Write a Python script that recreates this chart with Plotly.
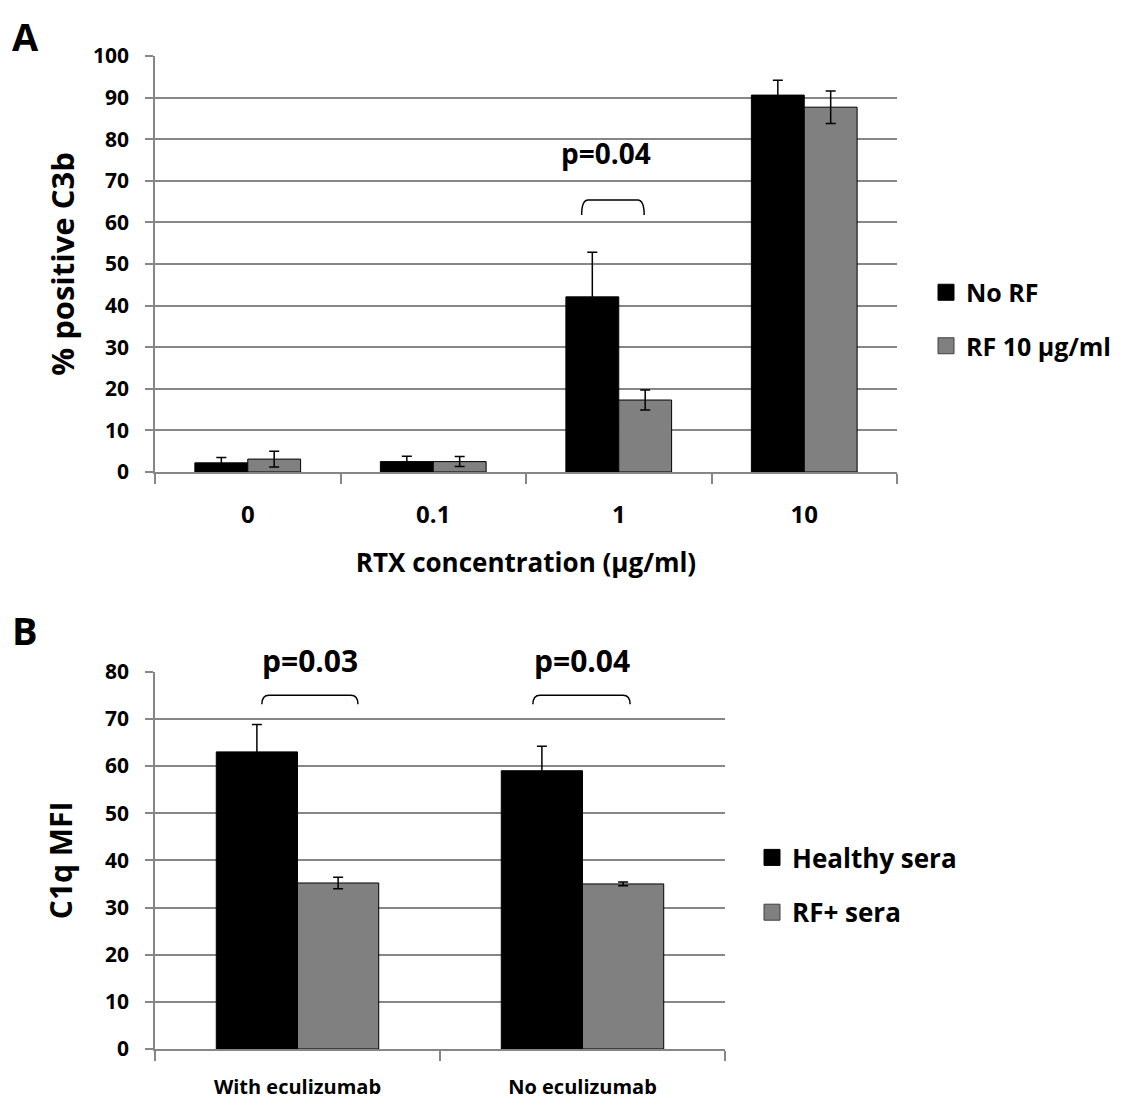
import plotly.graph_objects as go

# ---------------- data ----------------
# Panel A
rtx_conc = ["0", "0.1", "1", "10"]
no_rf = [2.2, 2.5, 42.1, 90.6]
no_rf_err = [1.3, 1.3, 10.7, 3.6]
rf10 = [3.1, 2.5, 17.3, 87.7]
rf10_err = [1.9, 1.2, 2.4, 3.9]
p_a_text = "p=0.04"

# Panel B
conditions = ["With eculizumab", "No eculizumab"]
healthy = [63.0, 59.0]
healthy_err = [5.8, 5.2]
rf_pos = [35.2, 35.0]
rf_pos_err = [1.2, 0.4]
p_b_text = ["p=0.03", "p=0.04"]

FONT = "Open Sans"
GRID = "#868686"
BLACK = "black"
GREY = "#808080"
W, H = 1134, 1106
OFF = 8  # default page body margin


def px_x(p):
    return (p - OFF) / W


def px_y(p):
    return 1 - (p - OFF) / H


def bold(size):
    return dict(family=FONT, size=size, color="black", weight="bold")


fig = go.Figure()

bar_line = dict(color="black", width=1)
err_style = dict(type="data", visible=True, color="black", thickness=1.5, width=5)

series = [
    (rtx_conc, no_rf, no_rf_err, "No RF", BLACK, "x", "y", "legend"),
    (rtx_conc, rf10, rf10_err, "RF 10 µg/ml", GREY, "x", "y", "legend"),
    (conditions, healthy, healthy_err, "Healthy sera", BLACK, "x2", "y2", "legend2"),
    (conditions, rf_pos, rf_pos_err, "RF+ sera", GREY, "x2", "y2", "legend2"),
]

for xs, ys, es, name, col, xa, ya, lg in series:
    fig.add_trace(go.Bar(x=xs, y=ys, name=name,
                         marker=dict(color=col, line=bar_line),
                         error_y=dict(array=es, **err_style),
                         xaxis=xa, yaxis=ya, showlegend=False, legendgroup=name))
    # legend-only entry with a larger square swatch
    fig.add_trace(go.Scatter(x=[None], y=[None], mode="markers", name=name,
                             marker=dict(symbol="square", size=16, color=col,
                                         line=dict(color="#404040" if col == GREY else "black",
                                                   width=1)),
                             xaxis=xa, yaxis=ya, legend=lg, legendgroup=name,
                             hoverinfo="skip"))

line_common = dict(showline=True, linecolor=GRID, linewidth=1.5, automargin=False,
                   ticks="outside", tickcolor=GRID, tickwidth=1.5)

fig.update_layout(
    width=W, height=H,
    margin=dict(l=0, r=0, t=0, b=0),
    paper_bgcolor="white", plot_bgcolor="white",
    barmode="group", bargap=0.43, bargroupgap=0,
    font=dict(family=FONT, color="black"),
    xaxis=dict(domain=[px_x(155), px_x(897)], anchor="y", type="category",
               tickson="boundaries", ticklen=10, ticklabelstandoff=20,
               tickfont=bold(24),
               title=dict(text="RTX concentration (µg/ml)", standoff=25, font=bold(26)),
               **line_common),
    yaxis=dict(domain=[px_y(472), px_y(56)], anchor="x", range=[0, 100], dtick=10,
               showgrid=True, gridcolor=GRID, gridwidth=1.5, ticklen=8,
               ticklabelstandoff=12, tickfont=bold(21),
               title=dict(text="% positive C3b", standoff=9, font=bold(31)),
               **line_common),
    xaxis2=dict(domain=[px_x(155), px_x(725)], anchor="y2", type="category",
                tickson="boundaries", ticklen=10, ticklabelstandoff=19,
                tickfont=bold(20),
                **line_common),
    yaxis2=dict(domain=[px_y(1049), px_y(671.7)], anchor="x2", range=[0, 80], dtick=10,
                showgrid=True, gridcolor=GRID, gridwidth=1.5, ticklen=8,
                ticklabelstandoff=12, tickfont=bold(21),
                title=dict(text="C1q MFI", standoff=24, font=bold(30)),
                **line_common),
    legend=dict(x=px_x(926), y=px_y(319), xanchor="left", yanchor="middle",
                font=bold(25), tracegroupgap=18, itemsizing="trace",
                bgcolor="rgba(0,0,0,0)"),
    legend2=dict(x=px_x(752), y=px_y(885), xanchor="left", yanchor="middle",
                 font=bold(26), tracegroupgap=18, itemsizing="trace",
                 bgcolor="rgba(0,0,0,0)"),
    showlegend=True,
)


def bracket(x0, x1, ylow, yhigh, dx, xref, yref):
    path = (f"M {x0},{ylow} Q {x0},{yhigh} {x0 + dx},{yhigh} "
            f"L {x1 - dx},{yhigh} Q {x1},{yhigh} {x1},{ylow}")
    return dict(type="path", path=path, xref=xref, yref=yref,
                line=dict(color="black", width=1.5))


shapes = [
    bracket(1.80, 2.137, 61.8, 65.4, 0.035, "x", "y"),
    bracket(-0.125, 0.212, 73.1, 75.0, 0.025, "x2", "y2"),
    bracket(0.826, 1.167, 73.1, 75.0, 0.025, "x2", "y2"),
]
fig.update_layout(shapes=shapes)

annotations = [
    dict(text=p_a_text, x=1.93, y=76.7, xref="x", yref="y", showarrow=False, font=bold(28)),
    dict(text=p_b_text[0], x=0.044, y=px_y(660), xref="x2", yref="paper", showarrow=False,
         font=bold(30)),
    dict(text=p_b_text[1], x=0.998, y=px_y(660), xref="x2", yref="paper", showarrow=False,
         font=bold(30)),
    dict(text="A", x=px_x(25), y=1, xref="paper", yref="paper", xanchor="center",
         yanchor="top", showarrow=False, font=bold(38)),
    dict(text="B", x=px_x(25), y=px_y(630), xref="paper", yref="paper", xanchor="center",
         yanchor="middle", showarrow=False, font=bold(38)),
]
fig.update_layout(annotations=annotations)

fig.write_html("out.html")
